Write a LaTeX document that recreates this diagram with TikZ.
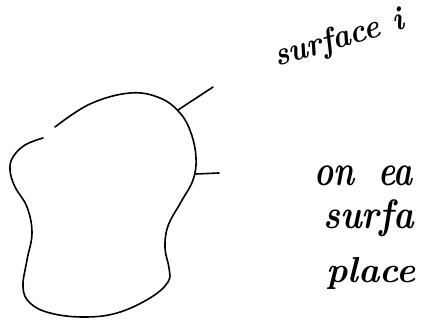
\documentclass[tikz,border=0pt]{standalone}
\usepackage{graphicx}
\begin{document}
\begin{tikzpicture}[x=1pt,y=-1pt,
  ink/.style={line width=1.6pt,line cap=round,line join=round},
  hand/.style={inner sep=0pt,font=\bfseries\itshape\Huge,anchor=base west}]
\useasboundingbox (0,0) rectangle (423,321);
\clip (0,0) rectangle (423,321);
\fill[white] (0,0) rectangle (423,321);
% blob outline (open at top-left)
\draw[ink] plot[smooth,tension=0.65] coordinates {
 (55,127) (90,104) (130,93) (160,98) (180,113) (191,133)
 (196,158) (193,180) (181,202) (168,226) (165,248) (169,268) (168,282)
 (150,298) (117,313) (83,317) (50,313) (30,303) (23,287) (27,260)
 (32,233) (27,207) (15,187) (10,170) (13,157) (25,145) (43,138)};
\coordinate (s1) at (178,110);
\coordinate (s2) at (196,174);
\node[hand,rotate=16.5] (lab) at (277,67) {\scalebox{1.22}[1.35]{surface\hspace{0.45em}i}};
\coordinate (l1) at (213,87);
\coordinate (t2) at (219,173);
\draw[ink] (s1) -- (l1);
\draw[ink] (s2) -- (t2);
\node[hand] (n1) at (314,185) {\scalebox{1.3}[1.75]{on\hspace{0.75em}ea}};
\node[hand] (n2) at (323,228) {\scalebox{1.4}[1.65]{surfa}};
\node[hand] (n3) at (326,282) {\scalebox{1.45}[1.45]{place}};
\end{tikzpicture}
\end{document}
